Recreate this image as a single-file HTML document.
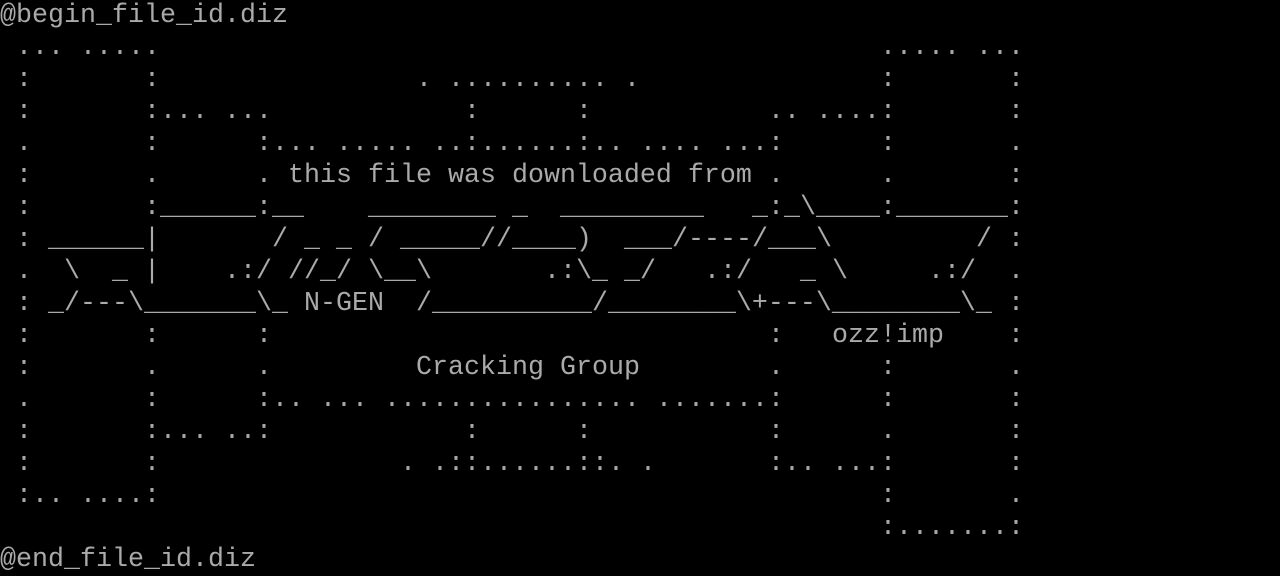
<!DOCTYPE html>
<html><head><meta charset="utf-8"><style>
html,body{margin:0;padding:0;background:#000;}
#s{position:relative;width:1280px;height:576px;overflow:hidden;background:#000;}
#s span{position:absolute;white-space:pre;font-family:"Liberation Mono",monospace;font-size:26.667px;line-height:32px;height:32px;color:#aaaaaa;}
</style></head><body><div id="s"></div>
<script>
var rows=[
[[0,"@begin_file_id.diz"]],
[[1,"..."],[5,"....."],[55,"....."],[61,"..."]],
[[1,":"],[9,":"],[26,"."],[28,".........."],[39,"."],[55,":"],[63,":"]],
[[1,":"],[9,":..."],[14,"..."],[29,":"],[36,":"],[48,".."],[51,"....:"],[63,":"]],
[[1,"."],[9,":"],[16,":..."],[21,"....."],[27,"..:......:.."],[40,"...."],[45,"...:"],[55,":"],[63,"."]],
[[1,":"],[9,"."],[16,"."],[18,"this file was downloaded from"],[48,"."],[55,"."],[63,":"]],
[[1,":"],[9,":______:__"],[23,"________"],[32,"_"],[35,"_________"],[47,"_:_\\____:_______:"]],
[[1,":"],[3,"______|"],[17,"/ _ _ / _____//____)"],[39,"___/----/___\\"],[61,"/"],[63,":"]],
[[1,"."],[4,"\\  _ |"],[14,".:/ //_/ \\__\\"],[34,".:\\_ _/"],[44,".:/"],[50,"_ \\"],[58,".:/"],[63,"."]],
[[1,":"],[3,"_/---\\_______\\_"],[19,"N-GEN"],[26,"/__________/________\\+---\\________\\_"],[63,":"]],
[[1,":"],[9,":"],[16,":"],[48,":"],[52,"ozz!imp"],[63,":"]],
[[1,":"],[9,"."],[16,"."],[26,"Cracking Group"],[48,"."],[55,":"],[63,"."]],
[[1,"."],[9,":"],[16,":.."],[20,"..."],[24,"................"],[41,".......:"],[55,":"],[63,":"]],
[[1,":"],[9,":... ..:"],[29,":"],[36,":"],[48,":"],[55,"."],[63,":"]],
[[1,":"],[9,":"],[25,". .::......::. ."],[48,":.. ...:"],[63,":"]],
[[1,":.. ....:"],[55,":"],[63,"."]],
[[55,":.......:"]],
[[0,"@end_file_id.diz"]]
];
var s=document.getElementById('s'),h='';
rows.forEach(function(r,i){r.forEach(function(seg){
var t=seg[1].replace(/&/g,'&amp;').replace(/</g,'&lt;');
h+='<span style="top:'+(i*32)+'px;left:'+(seg[0]*16)+'px">'+t+'</span>';});});
s.innerHTML=h;
</script>
</body></html>
